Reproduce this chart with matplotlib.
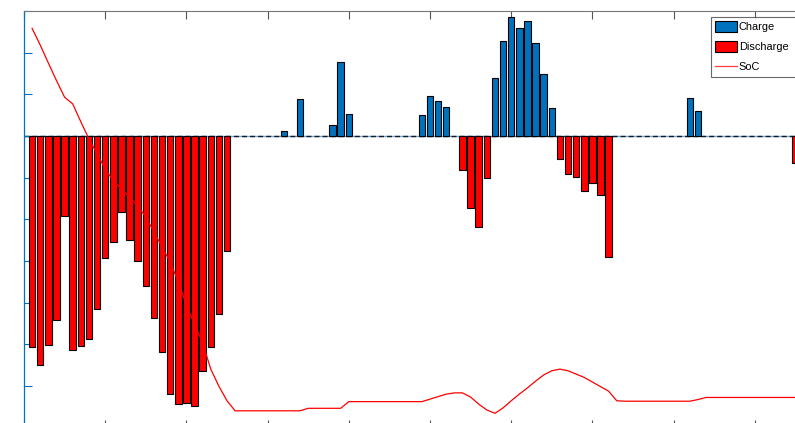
import numpy as np
import matplotlib
matplotlib.use("Agg")
import matplotlib.pyplot as plt
from matplotlib.patches import Patch
from matplotlib.lines import Line2D

plt.rcParams['font.family'] = ['Liberation Sans', 'DejaVu Sans']

# ---- data (96 time steps) ----
steps = np.arange(1, 97)

charge = [0, 0, 0, 0, 0, 0, 0, 0, 0, 0,
          0, 0, 0, 0, 0, 0, 0, 0, 0, 0,
          0, 0, 0, 0, 0, 0, 0, 0, 0, 0,
          0, 0.11, 0, 0.89, 0, 0, 0, 0.26, 1.77, 0.53,
          0, 0, 0, 0, 0, 0, 0, 0, 0.50, 0.96,
          0.84, 0.70, 0, 0, 0, 0, 0, 1.39, 2.27, 2.86,
          2.60, 2.76, 2.24, 1.48, 0.66, 0, 0, 0, 0, 0,
          0, 0, 0, 0, 0, 0, 0, 0, 0, 0,
          0, 0.91, 0.61, 0, 0, 0, 0, 0, 0, 0,
          0, 0, 0, 0, 0, 0]

discharge = [-5.07, -5.49, -5.02, -4.42, -1.92, -5.14, -5.03, -4.87, -4.15, -2.93,
             -2.55, -1.82, -2.49, -2.99, -3.59, -4.37, -5.17, -6.19, -6.43, -6.40,
             -6.48, -5.63, -5.07, -4.27, -2.75, 0, 0, 0, 0, 0,
             0, 0, 0, 0, 0, 0, 0, 0, 0, 0,
             0, 0, 0, 0, 0, 0, 0, 0, 0, 0,
             0, 0, 0, -0.81, -1.72, -2.19, -1.01, 0, 0, 0,
             0, 0, 0, 0, 0, -0.56, -0.91, -0.99, -1.33, -1.12,
             -1.41, -2.89, 0, 0, 0, 0, 0, 0, 0, 0,
             0, 0, 0, 0, 0, 0, 0, 0, 0, 0,
             0, 0, 0, 0, -0.64, 0]

soc = [95.8, 91.8, 87.5, 83.3, 79.3, 77.7, 73.4, 69.3, 65.7, 62.1,
       59.3, 57.3, 55.3, 53.2, 50.6, 47.0, 43.4, 39.8, 35.0, 29.5,
       24.7, 20.4, 14.1, 10.0, 6.5, 4.1, 4.1, 4.1, 4.1, 4.1,
       4.1, 4.1, 4.1, 4.1, 4.7, 4.7, 4.7, 4.7, 4.7, 6.3,
       6.3, 6.3, 6.3, 6.3, 6.3, 6.3, 6.3, 6.3, 6.3, 6.9,
       7.5, 8.1, 8.4, 8.4, 7.4, 5.7, 4.3, 3.5, 4.8, 6.5,
       8.1, 9.6, 11.2, 12.7, 13.7, 14.1, 13.7, 12.9, 12.1, 11.0,
       9.9, 8.8, 6.5, 6.4, 6.4, 6.4, 6.4, 6.4, 6.4, 6.4,
       6.4, 6.4, 6.8, 7.3, 7.3, 7.3, 7.3, 7.3, 7.3, 7.3,
       7.3, 7.3, 7.3, 7.3, 7.3, 7.3]

labels = ['Charge', 'Discharge', 'SoC']

# ---- styles ----
BLUE = '#0072BD'
RED = '#FF0000'
W, H = 795, 423

fig = plt.figure(figsize=(W / 100, H / 100), dpi=100)
x0, px_per_unit = 24, 8.12
top_px, bot_px = 10.9, 427.9
ax = fig.add_axes([x0 / W, 1 - bot_px / H, 97 * px_per_unit / W, (bot_px - top_px) / H])

charge_a = np.array(charge)
dis_a = np.array(discharge)
mc = charge_a != 0
md = dis_a != 0

# baseline (light blue solid + black dashed)
ax.axhline(0, color='#6FA8DC', lw=1.0, zorder=1)
ax.axhline(0, color='#1a1a1a', lw=1.0, dashes=(3.6, 2.2), zorder=1.5)

ax.bar(steps[mc], charge_a[mc], width=0.8, color=BLUE, edgecolor='black', linewidth=0.8, zorder=2)
ax.bar(steps[md], dis_a[md], width=0.8, color=RED, edgecolor='black', linewidth=0.8, zorder=2)

ax.set_xlim(0, 97)
ax.set_ylim(-7, 3)
ax.set_yticks(np.arange(-7, 4, 1))
ax.set_xticks(np.arange(0, 100, 10))
ax.tick_params(axis='y', which='both', direction='in', length=5.8, color=BLUE, width=0.8,
               labelleft=False, right=False)
ax.tick_params(axis='x', which='both', direction='in', length=5.8, color='#555555', width=0.8,
               labelbottom=False, top=True)
ax.spines['left'].set_color(BLUE)
ax.spines['left'].set_linewidth(0.9)
for s in ('top', 'bottom'):
    ax.spines[s].set_color('#777777')
    ax.spines[s].set_linewidth(0.8)
ax.spines['right'].set_visible(False)

ax2 = ax.twinx()
ax2.plot(steps, soc, color=RED, lw=0.9, zorder=3)
ax2.set_ylim(0, 100)
ax2.set_yticks([])
for s in ax2.spines.values():
    s.set_visible(False)

handles = [Patch(facecolor=BLUE, edgecolor='black', linewidth=0.8),
           Patch(facecolor=RED, edgecolor='black', linewidth=0.8),
           Line2D([], [], color='#FF4040', lw=0.9)]
leg_w = (820 - 711) / W
leg = fig.legend(handles, labels, loc='upper left',
                 bbox_to_anchor=(711 / W, 1 - 16.7 / H - 0.2, leg_w, 0.2),
                 bbox_transform=fig.transFigure, borderaxespad=0, fontsize=7.9,
                 mode='expand', frameon=True, fancybox=False,
                 handlelength=2.0, handleheight=1.2,
                 handletextpad=0.15, labelspacing=0.78, borderpad=0.4)
leg.get_frame().set_edgecolor('#444444')
leg.get_frame().set_linewidth(0.8)

fig.savefig('out.png', dpi=100)
